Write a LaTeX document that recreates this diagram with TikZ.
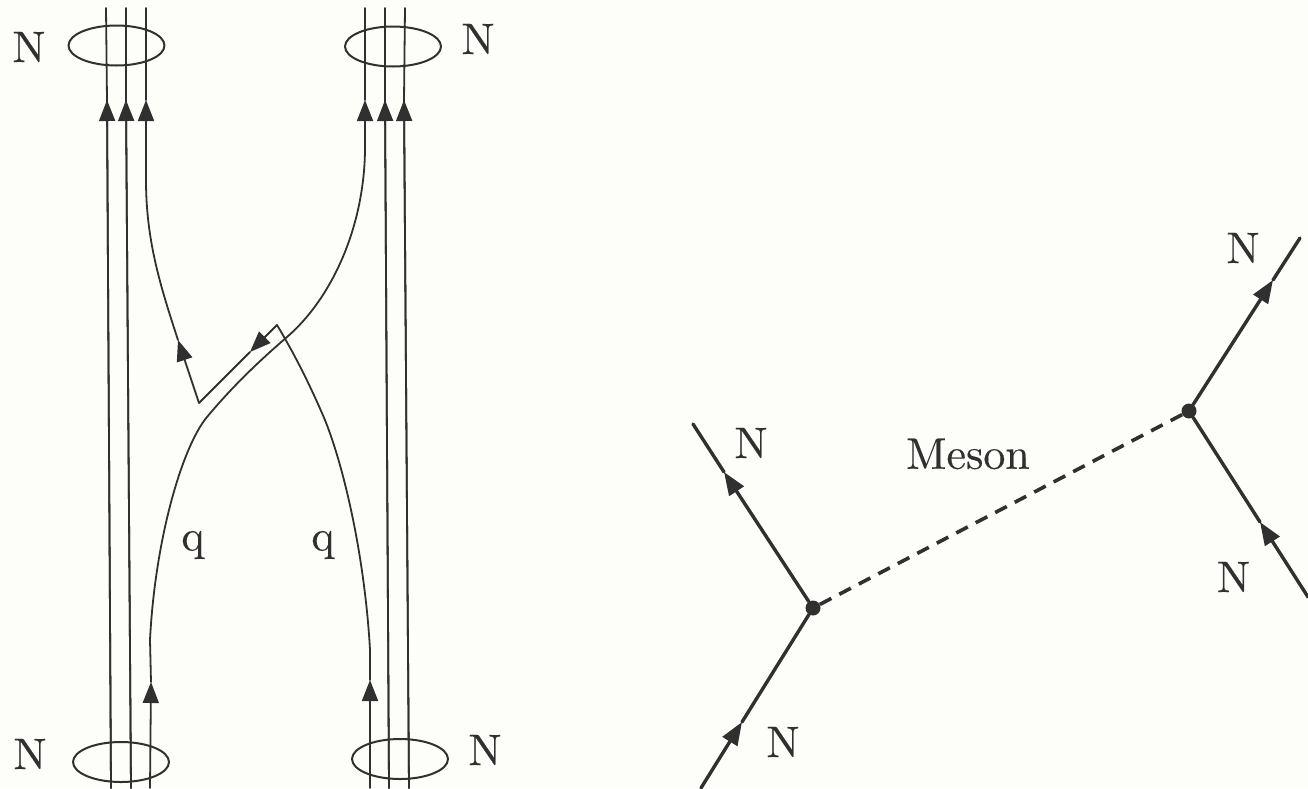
\documentclass[tikz,border=0pt]{standalone}
\usepackage{fontspec}
\usetikzlibrary{arrows.meta,shapes.geometric}
\newfontfamily\labfont[Extension=.otf,FakeBold=0.25]{lmroman10-regular}
\definecolor{paper}{RGB}{253,253,249}
\definecolor{ink}{RGB}{48,48,48}
\tikzset{
  quark/.style={draw=ink,line width=1.8pt},
  quarktip/.style={quark,-{Triangle[length=21pt,width=16pt,fill=ink]}},
  nucleon/.style={draw=ink,line width=3.4pt},
  nucleontip/.style={nucleon,-{Triangle[length=23pt,width=17pt,fill=ink]}},
  meson/.style={draw=ink,line width=3.6pt,line cap=butt,dash pattern=on 13pt off 9pt},
  bag/.style={draw=ink,line width=2pt,ellipse,minimum width=96pt,minimum height=40pt,inner sep=0pt},
  vertex/.style={circle,fill=ink,minimum size=15pt,inner sep=0pt},
  lab/.style={text=ink,inner sep=0pt,font=\labfont\fontsize{44}{48}\selectfont}
}
\begin{document}
\begin{tikzpicture}[x=1pt,y=-1pt,line cap=round,line join=round]
\path[use as bounding box,fill=paper] (0,0) rectangle (1308,788);
\node[bag] (bagTL) at (116.5,45.5) {};
\node[bag] (bagTR) at (393,46.5) {};
\node[bag] (bagBL) at (121,762) {};
\node[bag] (bagBR) at (400,759) {};
\coordinate (la0) at (111,788);
\coordinate (la1) at (107,100);
\coordinate (la2) at (106,8);
\coordinate (lb0) at (131,788);
\coordinate (lb1) at (126,100);
\coordinate (lb2) at (126,8);
\coordinate (lc2) at (146,8);
\coordinate (lc1) at (146,100);
\coordinate (lc3) at (146,180);
\coordinate (ra0) at (389,788);
\coordinate (ra1) at (385,100);
\coordinate (ra2) at (385,8);
\coordinate (rb0) at (409,788);
\coordinate (rb1) at (404,100);
\coordinate (rb2) at (405,8);
\coordinate (rc2) at (365,8);
\coordinate (rc1) at (365,100);
\coordinate (rc3) at (365,150);
\coordinate (qa0) at (150,788);
\coordinate (qa1) at (151,682);
\coordinate (qa2) at (150,640);
\coordinate (qa3) at (207,417);
\coordinate (qa4) at (287,337);
\coordinate (qb0) at (370,788);
\coordinate (qb1) at (370,680);
\coordinate (qb2) at (370,650);
\coordinate (qb3) at (325,420);
\coordinate (kinkA) at (277,325);
\coordinate (kinkB) at (199,403);
\coordinate (kinkT) at (250,352);
\coordinate (qc1) at (178,340);
\draw[quark] (la0) -- (la1) -- (la2);
\draw[quarktip] (la0) -- (la1);
\draw[quark] (lb0) -- (lb1) -- (lb2);
\draw[quarktip] (lb0) -- (lb1);
\draw[quark] (ra0) -- (ra1) -- (ra2);
\draw[quarktip] (ra0) -- (ra1);
\draw[quark] (rb0) -- (rb1) -- (rb2);
\draw[quarktip] (rb0) -- (rb1);
\draw[quarktip] (qa0) -- (qa1);
\draw[quark] (qa1) -- (qa2) .. controls (155,540) and (182,447) .. (qa3) .. controls (232,387) and (258,362) .. (qa4) .. controls (330,300) and (364,230) .. (rc3);
\draw[quarktip] (rc3) -- (rc1);
\draw[quark] (rc1) -- (rc2);
\draw[quarktip] (qb0) -- (qb1);
\draw[quark] (qb1) -- (qb2) .. controls (365,560) and (345,470) .. (qb3) .. controls (310,385) and (295,355) .. (kinkA);
\draw[quarktip] (kinkA) -- (kinkT);
\draw[quark] (kinkT) -- (kinkB);
\draw[quarktip] (kinkB) -- (qc1);
\draw[quark] (qc1) .. controls (160,285) and (146,240) .. (lc3);
\draw[quarktip] (lc3) -- (lc1);
\draw[quark] (lc1) -- (lc2);
\node[lab] (nTL) at (29,47) {N};
\node[lab] (nTR) at (478,39) {N};
\node[lab] (nBL) at (30,754) {N};
\node[lab] (nBR) at (485,750) {N};
\node[lab] (q1) at (193,545) {q};
\node[lab] (q2) at (323,545) {q};
\node[vertex] (vL) at (813,608) {};
\node[vertex] (vR) at (1189,411) {};
\coordinate (inL) at (701,788);
\coordinate (inLtip) at (742,722);
\coordinate (outL) at (693,424);
\coordinate (outLtip) at (724,472);
\coordinate (outR) at (1300,238);
\coordinate (outRtip) at (1273,280);
\coordinate (inR) at (1308,597);
\coordinate (inRtip) at (1260,522);
\draw[nucleontip] (inL) -- (inLtip);
\draw[nucleon] (inLtip) -- (vL);
\draw[nucleontip] (vL) -- (outLtip);
\draw[nucleon] (outLtip) -- (outL);
\draw[nucleontip] (vR) -- (outRtip);
\draw[nucleon] (outRtip) -- (outR);
\draw[nucleontip] (inR) -- (inRtip);
\draw[nucleon] (inRtip) -- (vR);
\draw[meson] (vL) -- (vR);
\node[lab] (nA) at (751,443) {N};
\node[lab] (nB) at (783,742) {N};
\node[lab] (nC) at (1243,248) {N};
\node[lab] (nD) at (1233.5,577) {N};
\node[lab] (mes) at (968,454) {Meson};
\end{tikzpicture}
\end{document}
